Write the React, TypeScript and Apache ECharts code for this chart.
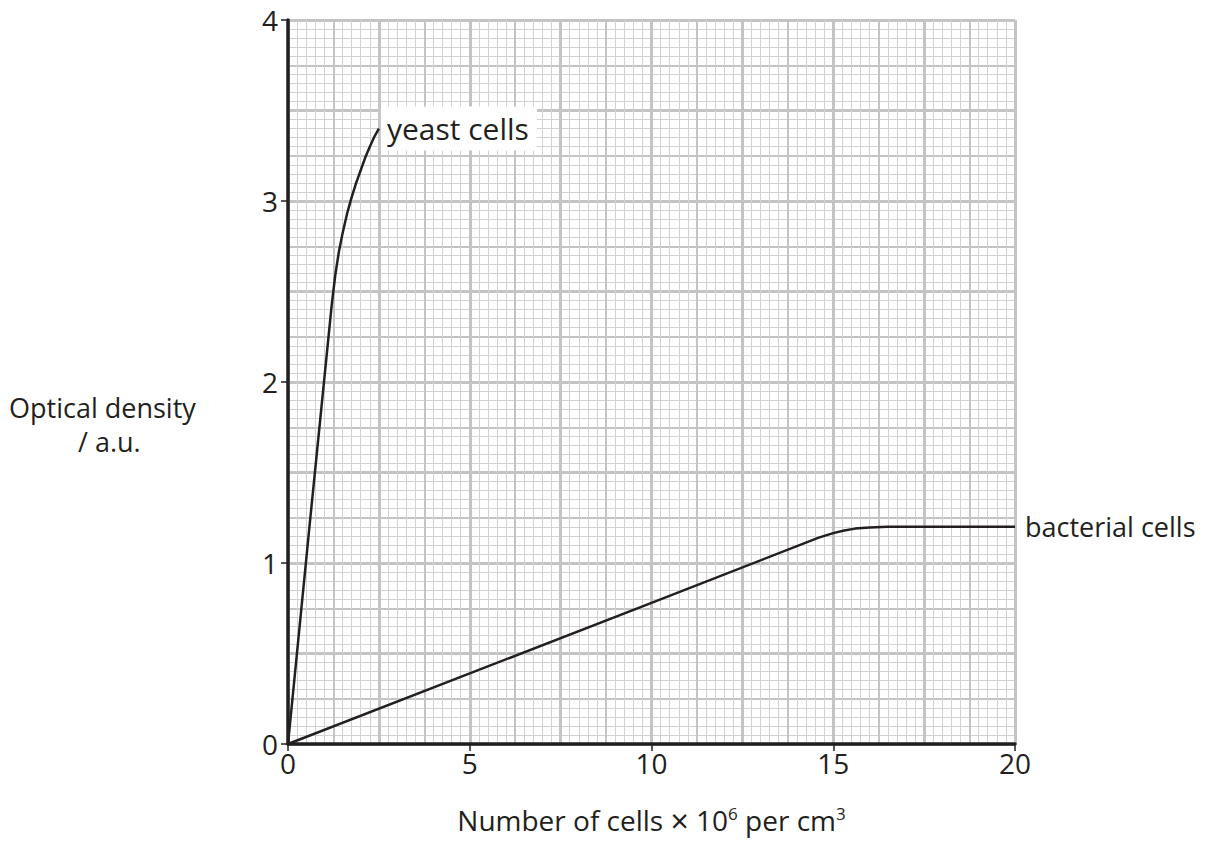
import React, { useEffect, useRef } from "react";
import * as echarts from "echarts";

const yeastX = [0, 0.6, 1.2, 1.3, 1.4, 1.5, 1.625, 1.75, 1.875, 2, 2.125, 2.25, 2.375, 2.5];
const yeastY = [0, 1.22, 2.42, 2.59, 2.72, 2.82, 2.93, 3.02, 3.1, 3.17, 3.24, 3.3, 3.355, 3.4];
const bactX = [0, 5, 10, 14.6, 15, 15.3, 15.6, 16, 16.5, 20];
const bactY = [0, 0.39, 0.78, 1.14, 1.165, 1.18, 1.19, 1.196, 1.2, 1.2];
const xTicks = [0, 5, 10, 15, 20];
const yTicks = [0, 1, 2, 3, 4];

const INK = "#231f20";
const FONT = "Open Sans";

export default function App() {
  const ref = useRef<HTMLDivElement>(null);
  useEffect(() => {
    if (!ref.current) return;
    const chart = echarts.init(ref.current, null, { renderer: "svg" });
    const hiddenAxis = (min: number, max: number, interval: number, color: string, width: number) => ({
      type: "value",
      min,
      max,
      interval,
      axisLine: { show: false },
      axisTick: { show: false },
      axisLabel: { show: false },
      splitLine: { show: true, lineStyle: { color, width } },
    });
    const xMin = xTicks[0];
    const xMax = xTicks[xTicks.length - 1];
    const yMin = yTicks[0];
    const yMax = yTicks[yTicks.length - 1];
    chart.setOption({
      animation: false,
      backgroundColor: "#ffffff",
      grid: { left: 288, top: 20, right: 193, bottom: 95, containLabel: false },
      xAxis: [
        {
          type: "value",
          min: xMin,
          max: xMax,
          interval: 5,
          position: "bottom",
          axisLine: { show: true, onZero: false, lineStyle: { color: INK, width: 3.5 } },
          axisTick: { show: true, inside: false, length: 7, lineStyle: { color: INK, width: 1.5 } },
          axisLabel: { show: true, color: INK, fontFamily: FONT, fontSize: 28, margin: 5 },
          splitLine: { show: false },
          name: "Number of cells {x|\u00d7} 10{sup|6} per cm{sup|3}",
          nameLocation: "middle",
          nameGap: 60,
          nameTextStyle: {
            color: INK,
            fontFamily: FONT,
            fontSize: 28,
            rich: {
              x: { fontSize: 32, fontFamily: FONT, color: INK },
              sup: { fontSize: 17, fontFamily: FONT, color: INK, padding: [0, 0, 14, 0] },
            },
          },
          z: 10,
        },
        hiddenAxis(xMin, xMax, 0.25, "#d2d2d2", 1),
        hiddenAxis(xMin, xMax, 1.25, "#c4c4c4", 2),
        hiddenAxis(xMin, xMax, 2.5, "#c4c4c4", 3),
      ],
      yAxis: [
        {
          type: "value",
          min: yMin,
          max: yMax,
          interval: 1,
          position: "left",
          axisLine: { show: true, onZero: false, lineStyle: { color: INK, width: 3.5 } },
          axisTick: { show: true, inside: false, length: 7, lineStyle: { color: INK, width: 1.5 } },
          axisLabel: { show: true, color: INK, fontFamily: FONT, fontSize: 28, margin: 10 },
          splitLine: { show: false },
          z: 10,
        },
        hiddenAxis(yMin, yMax, 0.05, "#d2d2d2", 1),
        hiddenAxis(yMin, yMax, 0.25, "#c4c4c4", 2),
        hiddenAxis(yMin, yMax, 0.5, "#c4c4c4", 3),
      ],
      graphic: [
        {
          type: "text",
          left: 9,
          top: 394,
          style: { text: "Optical density", fill: INK, font: `27px "${FONT}"` },
        },
        {
          type: "text",
          left: 78,
          top: 428,
          style: { text: "/ a.u.", fill: INK, font: `27px "${FONT}"` },
        },
      ],
      series: [
        {
          name: "yeast cells",
          type: "line",
          xAxisIndex: 0,
          yAxisIndex: 0,
          data: yeastX.map((x, i) => [x, yeastY[i]]),
          smooth: false,
          showSymbol: false,
          symbol: "none",
          lineStyle: { color: INK, width: 2.5, join: "round" },
          z: 20,
          endLabel: {
            show: true,
            formatter: "{a}",
            color: INK,
            fontFamily: FONT,
            fontSize: 30,
            backgroundColor: "#ffffff",
            padding: [6, 8, 8, 6],
            distance: 2,
            offset: [0, 0],
          },
        },
        {
          name: "bacterial cells",
          type: "line",
          xAxisIndex: 0,
          yAxisIndex: 0,
          data: bactX.map((x, i) => [x, bactY[i]]),
          smooth: false,
          showSymbol: false,
          symbol: "none",
          lineStyle: { color: INK, width: 2.5, join: "round" },
          z: 20,
          endLabel: {
            show: true,
            formatter: "{a}",
            color: INK,
            fontFamily: FONT,
            fontSize: 27,
            distance: 10,
          },
        },
      ],
    });
    return () => chart.dispose();
  }, []);
  return (
    <div
      ref={ref}
      style={{ position: "absolute", left: 0, top: 0, width: 1208, height: 841, background: "#fff" }}
    />
  );
}
